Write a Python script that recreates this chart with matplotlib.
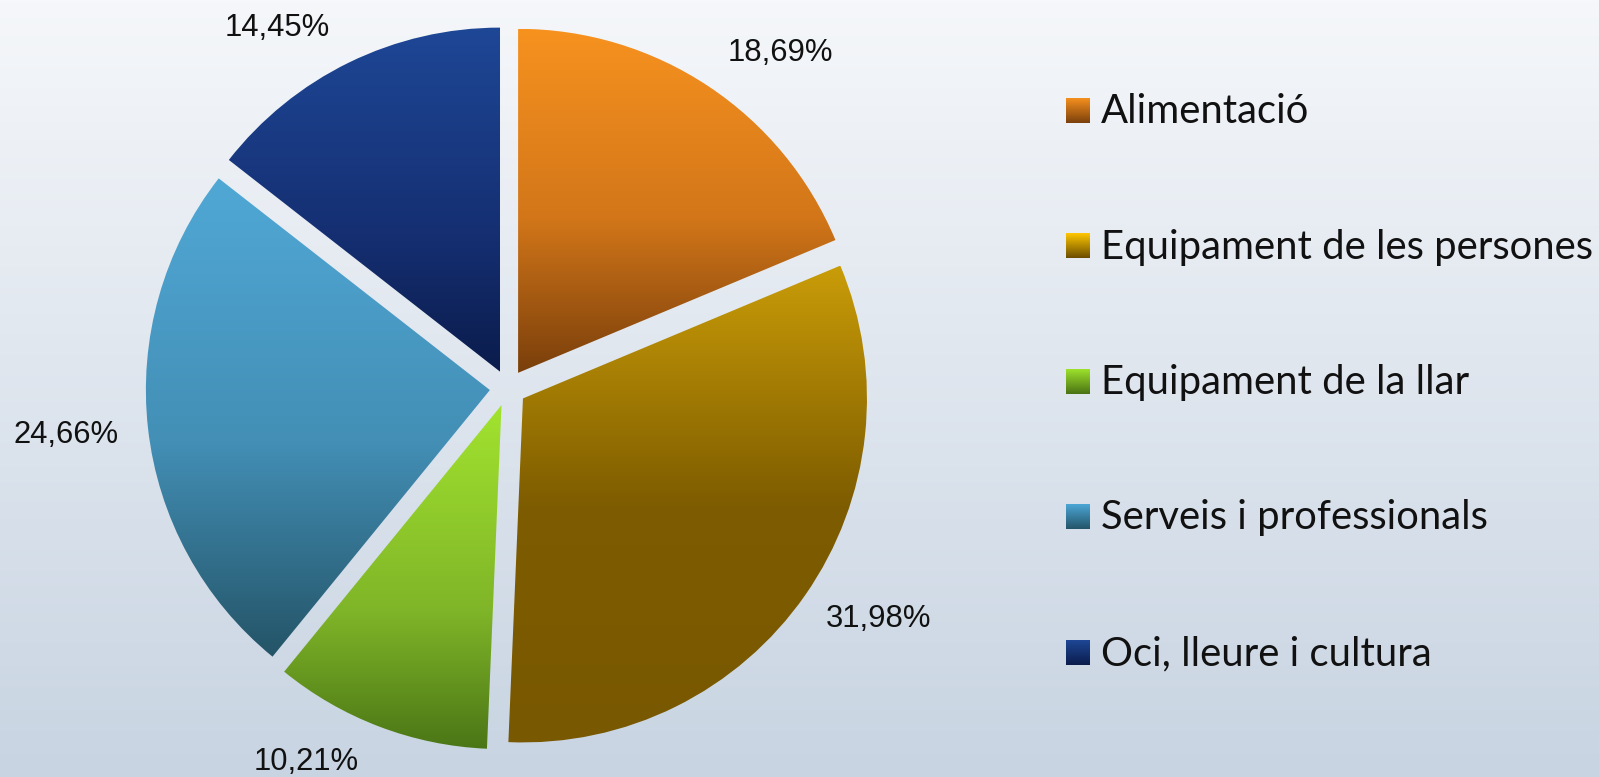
import numpy as np
import matplotlib
matplotlib.use('Agg')
import matplotlib.pyplot as plt
from matplotlib.colors import LinearSegmentedColormap

# data
categories = ['Alimentació', 'Equipament de les persones', 'Equipament de la llar',
              'Serveis i professionals', 'Oci, lleure i cultura']
shares = [18.69, 31.98, 10.21, 24.66, 14.45]
pct_labels = ['18,69%', '31,98%', '10,21%', '24,66%', '14,45%']

# gradient stops per slice (top -> bottom)
slice_grads = [
    [(0.0, '#f7921f'), (0.55, '#d27619'), (1.0, '#7a3f0b')],
    [(0.0, '#c99c08'), (0.5, '#7e5c00'), (1.0, '#785800')],
    [(0.0, '#a2e32f'), (0.6, '#7fb528'), (1.0, '#4b7616')],
    [(0.0, '#50a8d5'), (0.55, '#438fb6'), (1.0, '#245467')],
    [(0.0, '#1e4796'), (0.6, '#152f72'), (1.0, '#0b1c4c')],
]
legend_grads = [
    [(0.0, '#f5901e'), (1.0, '#7b400c')],
    [(0.0, '#ffc800'), (1.0, '#6b4c00')],
    [(0.0, '#9de22c'), (1.0, '#4a7214')],
    [(0.0, '#4ba6d6'), (1.0, '#245468')],
    [(0.0, '#1e4796'), (1.0, '#0b1c4c')],
]

W, H = 1599, 777
cx, cy, R = 508, 388, 344
label_pos = [(780, 53), (879, 619), (306, 762), (66, 435), (277, 28)]
leg_x, leg_base0, leg_dy = 1066, 123, 135.5


def grad_img(stops, n=256):
    cmap = LinearSegmentedColormap.from_list('g', stops)
    return cmap(np.linspace(0, 1, n))[:, None, :]


fig = plt.figure(figsize=(W / 100, H / 100), dpi=100)

# background
bg = fig.add_axes([0, 0, 1, 1], zorder=0)
bg.imshow(grad_img([(0, '#f5f7fa'), (1, '#c8d4e2')]), extent=[0, 1, 0, 1],
          aspect='auto', origin='upper')
bg.axis('off')

# pie
ax = fig.add_axes([0, 0, 1, 1], zorder=1)
ax.patch.set_alpha(0)
wedges, _ = ax.pie(shares, startangle=90, counterclock=False,
                   explode=[0.053] * len(shares), radius=1,
                   wedgeprops=dict(linewidth=0, edgecolor='none'))
for w, stops in zip(wedges, slice_grads):
    v = w.get_path().vertices
    x0, y0 = v.min(axis=0)
    x1, y1 = v.max(axis=0)
    w.set_facecolor('none')
    im = ax.imshow(grad_img(stops), extent=[x0, x1, y0, y1], origin='upper',
                   aspect='auto', interpolation='bilinear')
    im.set_clip_path(w)
ax.set_xlim(-cx / R, (W - cx) / R)
ax.set_ylim(-(H - cy) / R, cy / R)
ax.set_aspect('auto')
ax.axis('off')

# labels and legend in pixel coords
ov = fig.add_axes([0, 0, 1, 1], zorder=2)
ov.patch.set_alpha(0)
ov.axis('off')

for (x, y), t in zip(label_pos, pct_labels):
    ov.text(x, y, t, ha='center', va='center', fontsize=22.3,
            family='Liberation Sans', color='#111111')

for i, (name, stops) in enumerate(zip(categories, legend_grads)):
    base = leg_base0 + i * leg_dy
    ov.imshow(grad_img(stops), extent=[leg_x, leg_x + 24, base, base - 25],
              origin='upper', aspect='auto')
    ov.text(leg_x + 35, base, name, ha='left', va='baseline', fontsize=28.8,
            family='Lato', color='#111111')
ov.set_xlim(0, W)
ov.set_ylim(H, 0)

fig.savefig('out.png', dpi=100)
